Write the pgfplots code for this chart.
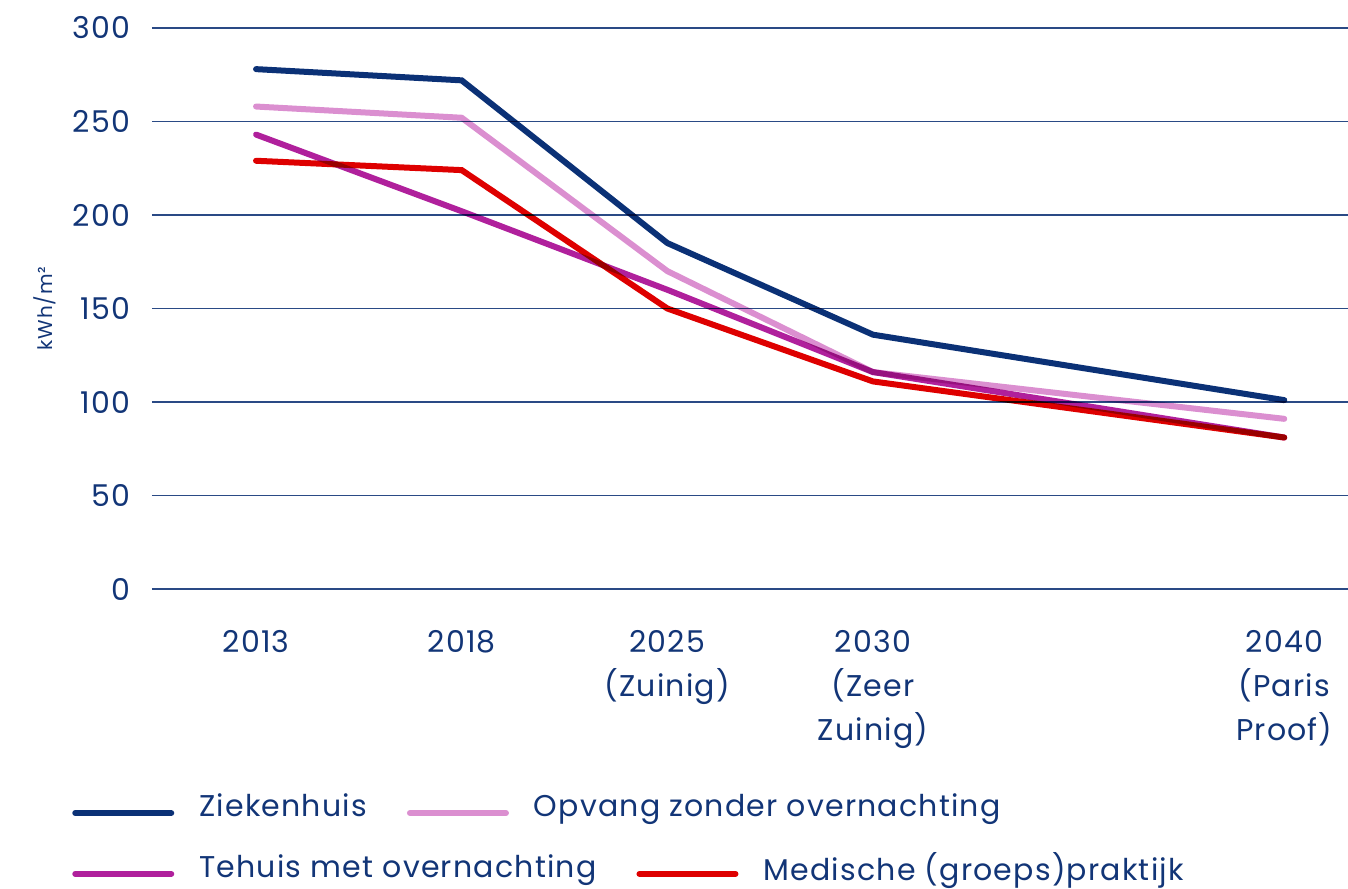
\documentclass[border=0pt]{standalone}
\usepackage{fontspec}
\setmainfont{Poppins}[LetterSpace=4]
\usepackage{pgfplots}
\pgfplotsset{compat=1.18}
\definecolor{navy}{HTML}{0B3176}
\definecolor{txt}{HTML}{123577}
\definecolor{lpink}{HTML}{DB8FD0}
\definecolor{magen}{HTML}{B0209C}
\definecolor{red1}{HTML}{DE0000}
\definecolor{gridc}{HTML}{2A4A85}

\pgfplotsset{
  lgd/.style={
    legend columns=-1,
    legend style={draw=none, fill=none, inner sep=0pt, anchor=west,
      font=\fontsize{15}{18}\selectfont, text=txt,
      nodes={inner sep=0pt},
      /tikz/every odd column/.append style={column sep=12.5pt},
      /tikz/every even column/.append style={column sep=20pt}},
    legend image code/.code={\draw[##1, line width=3pt, line cap=round] (1.5pt,-3pt) -- (49.5pt,-3pt);},
  },
}

\begin{document}
\begin{tikzpicture}
\path[use as bounding box] (-76pt,-149.5pt) rectangle (598pt,294.5pt);
\begin{axis}[
    scale only axis,
    width=598pt, height=280.5pt,
    xmin=-0.506, xmax=5.31,
    ymin=0, ymax=300,
    ytick={0,50,...,300},
    xtick={0,1,2,3,5},
    xticklabels={2013, 2018, {2025\\(Zuinig)}, {2030\\(Zeer\\Zuinig)}, {2040\\(Paris\\Proof)}},
    x tick label style={align=center, font=\fontsize{15}{22}\selectfont, text=txt, yshift=-17pt},
    y tick label style={font=\fontsize{15}{18}\selectfont, text=txt, xshift=-7.5pt},
    /pgf/number format/assume math mode=true,
    axis line style={draw=none},
    major tick length=0pt,
    ymajorgrids,
    grid style={gridc, line width=0.7pt},
    ylabel={kWh/m²},
    ylabel style={font=\fontsize{10}{12}\selectfont, text=txt, at={(axis description cs:-0.0745,0.5)}},
    every axis plot/.append style={line width=3pt, line cap=round, line join=miter, blend mode=multiply},
    lgd,
    legend style={at={(axis description cs:-0.067,-0.3886)}},
]
\addplot[navy] coordinates {(0,278) (1,272) (2,185) (3,136) (5,101)};
\addlegendentry{Ziekenhuis}
\addplot[lpink] coordinates {(0,258) (1,252) (2,170) (3,116) (5,91)};
\addlegendentry{Opvang zonder overnachting}
\addplot[magen] coordinates {(0,243) (1,202) (2,160) (3,116) (5,81)};
\addplot[red1] coordinates {(0,229) (1,224) (2,150) (3,111) (5,81)};
\end{axis}
\begin{axis}[
    scale only axis,
    width=598pt, height=280.5pt,
    xmin=0, xmax=1, ymin=0, ymax=1,
    hide axis,
    lgd,
    legend style={at={(axis description cs:-0.067,-0.497)}},
]
\addlegendimage{magen}
\addlegendentry{Tehuis met overnachting}
\addlegendimage{red1}
\addlegendentry{Medische (groeps)praktijk}
\end{axis}
\end{tikzpicture}
\end{document}
